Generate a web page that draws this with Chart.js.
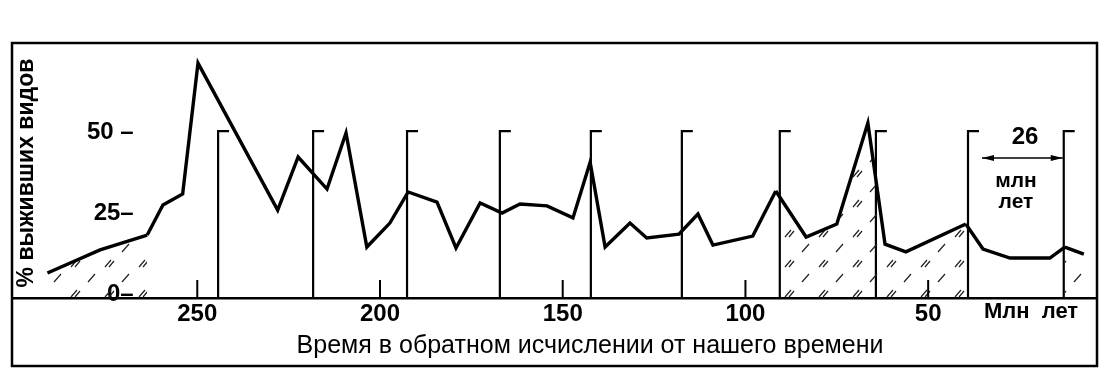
<!DOCTYPE html>
<html>
<head>
<meta charset="utf-8">
<script src="https://cdn.jsdelivr.net/npm/chart.js@4.4.0/dist/chart.umd.min.js"></script>
<style>
  body { margin: 0; background: #fff; }
</style>
</head>
<body>
<canvas id="chart" width="1108" height="378"></canvas>
<script>
// time, million years ago
const timeMa = [291, 276.6, 263.7, 259.4, 254, 249.8, 228, 222.4, 214.5, 209.3,
    203.6, 197.3, 192.3, 184.4, 179.2, 172.6, 166.6, 161.7, 154.3, 147.2,
    142.5, 138.4, 131.6, 127, 118.2, 113, 108.9, 98, 91.7, 83.4,
    75, 66.5, 61.8, 56.1, 39.7, 35, 27.6, 16.7, 12.6, 7.4];
// % of species surviving
const survived = [6.5, 13.6, 18.2, 27.5, 30.9, 71.3, 25.9, 42.3, 32.4, 49.7,
    14.5, 21.9, 31.5, 28.4, 14.2, 28.1, 25, 27.8, 27.2, 23.5,
    40.7, 14.5, 21.9, 17.3, 18.5, 24.7, 15.1, 17.9, 31.8, 17.6,
    21.6, 52.8, 15.4, 13, 21.6, 13.9, 11.1, 11.1, 14.5, 12.3];
// 26 Myr periodic marks
const periodMarks = [244.3, 218.3, 192.6, 167.2, 142.3, 117.4, 90.6, 64.3, 39.1, 12.9];
const markTop = 50.3;
const hatchRanges = [[292, 263], [92, 47], [13, 7]];

const xTicks = [250, 200, 150, 100, 50];
const yTicks = [0, 25, 50];
const yTickLabels = ['0–', '25–', '50 –'];

const xMin = 3.8, xMax = 300.7;
const yMin = -1.23, yMax = 77.5;

const FONT = "'Liberation Sans', Arial, sans-serif";

function hatchPattern() {
    const c = document.createElement('canvas');
    c.width = 34; c.height = 30;
    const g = c.getContext('2d');
    g.strokeStyle = '#222';
    g.lineWidth = 1.2;
    g.beginPath();
    g.moveTo(3, 27); g.lineTo(9, 20);
    g.moveTo(7, 27); g.lineTo(12, 21);
    g.moveTo(20, 12); g.lineTo(27, 4);
    g.stroke();
    return g.createPattern(c, 'repeat');
}
const hatch = hatchPattern();

const mainData = timeMa.map((t, i) => ({ x: t, y: survived[i] }));
const markData = [];
periodMarks.forEach(t => {
    markData.push({ x: t, y: yMin }, { x: t, y: markTop }, { x: t - 3, y: markTop }, { x: t, y: null });
});

const framePlugin = {
    id: 'frame',
    afterDraw(chart) {
        const ctx = chart.ctx;
        const a = chart.chartArea;
        const xs = chart.scales.x;
        ctx.save();
        ctx.strokeStyle = '#000';
        ctx.fillStyle = '#000';
        // outer frame
        ctx.lineWidth = 2.5;
        ctx.strokeRect(a.left, a.top, a.right - a.left, 366 - a.top);
        // inner tick marks
        ctx.lineWidth = 2;
        ctx.beginPath();
        xTicks.forEach(v => {
            const px = xs.getPixelForValue(v);
            ctx.moveTo(px, a.bottom);
            ctx.lineTo(px, a.bottom - 18);
        });
        ctx.stroke();
        // axis titles
        ctx.textAlign = 'center';
        ctx.textBaseline = 'middle';
        ctx.font = '25px ' + FONT;
        ctx.fillText('Время в обратном исчислении от нашего времени', 590, 346);
        ctx.font = 'bold 22px ' + FONT;
        ctx.fillText('Млн  лет', 1031, 312);
        ctx.save();
        ctx.translate(27, 173);
        ctx.rotate(-Math.PI / 2);
        ctx.font = 'bold 23px ' + FONT;
        ctx.fillText('% выживших видов', 0, 0);
        ctx.restore();
        // 26 Myr annotation
        ctx.font = 'bold 24px ' + FONT;
        ctx.fillText('26', 1025, 137);
        ctx.font = 'bold 21px ' + FONT;
        ctx.fillText('млн', 1016, 181);
        ctx.fillText('лет', 1016, 202);
        const x1 = xs.getPixelForValue(periodMarks[8]) + 14;
        const x2 = xs.getPixelForValue(periodMarks[9]) - 1;
        const ay = 158;
        ctx.lineWidth = 1.5;
        ctx.beginPath();
        ctx.moveTo(x1, ay); ctx.lineTo(x2, ay);
        ctx.stroke();
        ctx.beginPath();
        ctx.moveTo(x1, ay); ctx.lineTo(x1 + 12, ay - 3); ctx.lineTo(x1 + 12, ay + 3); ctx.closePath();
        ctx.moveTo(x2, ay); ctx.lineTo(x2 - 12, ay - 3); ctx.lineTo(x2 - 12, ay + 3); ctx.closePath();
        ctx.fill();
        ctx.restore();
    }
};

new Chart(document.getElementById('chart'), {
    type: 'line',
    data: {
        datasets: [{
            data: mainData,
            borderColor: '#000',
            borderWidth: 3.4,
            pointRadius: 0,
            tension: 0,
            fill: 'start',
            backgroundColor: 'rgba(0,0,0,0)',
            segment: {
                backgroundColor: c => {
                    const mid = (c.p0.parsed.x + c.p1.parsed.x) / 2;
                    return hatchRanges.some(r => mid <= r[0] && mid >= r[1]) ? hatch : 'rgba(0,0,0,0)';
                }
            }
        }, {
            data: markData,
            borderColor: '#000',
            borderWidth: 2.2,
            pointRadius: 0,
            fill: false,
            spanGaps: false
        }]
    },
    options: {
        responsive: false,
        animation: false,
        layout: { padding: { left: 12, right: 11, top: 43, bottom: 12 } },
        plugins: { legend: { display: false }, tooltip: { enabled: false } },
        scales: {
            x: {
                type: 'linear',
                min: xMin,
                max: xMax,
                reverse: true,
                afterBuildTicks: s => { s.ticks = xTicks.map(v => ({ value: v })); },
                afterFit: s => { s.height = 68; s.paddingLeft = 0; s.paddingRight = 0; },
                grid: { display: false, drawTicks: false },
                border: { display: true, color: '#000', width: 2.5 },
                ticks: {
                    color: '#000',
                    padding: 2,
                    maxRotation: 0,
                    autoSkip: false,
                    font: { family: FONT, size: 24, weight: 'bold' }
                }
            },
            y: {
                min: yMin,
                max: yMax,
                afterBuildTicks: s => { s.ticks = yTicks.map(v => ({ value: v })); },
                afterFit: s => { s.width = 0; s.paddingTop = 0; s.paddingBottom = 0; },
                grid: { display: false, drawTicks: false },
                border: { display: false },
                ticks: {
                    mirror: true,
                    crossAlign: 'far',
                    padding: 75,
                    color: '#000',
                    font: { family: FONT, size: 24, weight: 'bold' },
                    callback: v => yTickLabels[yTicks.indexOf(v)]
                }
            }
        }
    },
    plugins: [framePlugin]
});
</script>
</body>
</html>
